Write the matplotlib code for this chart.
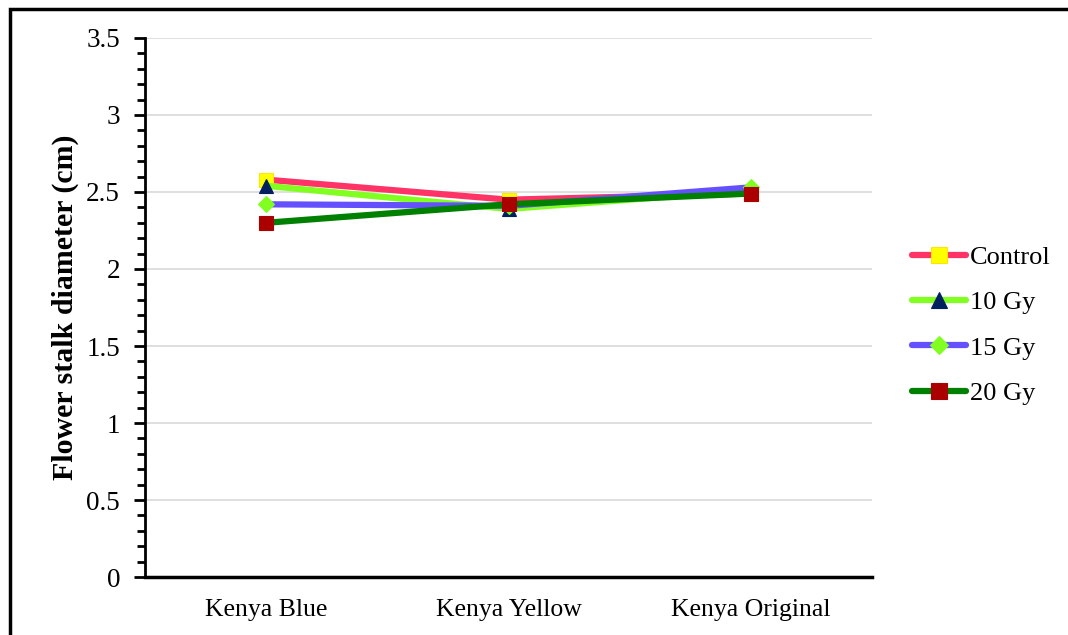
import matplotlib
matplotlib.use("Agg")
import matplotlib.pyplot as plt
from matplotlib.ticker import MultipleLocator
from matplotlib.patches import Rectangle

# cultivars and stalk diameters (cm) per irradiation dose
cultivars = ["Kenya Blue", "Kenya Yellow", "Kenya Original"]
control = [2.58, 2.45, 2.49]
gy10 = [2.54, 2.39, 2.51]
gy15 = [2.42, 2.41, 2.53]
gy20 = [2.30, 2.42, 2.49]

series = [
    ("Control", control, "#FF3366", "s", "#FFFF00", "#FFE600"),
    ("10 Gy", gy10, "#80FF20", "^", "#002060", "#002060"),
    ("15 Gy", gy15, "#6450FF", "D", "#80FF20", "#80FF20"),
    ("20 Gy", gy20, "#008000", "s", "#AA0000", "#AA0000"),
]

plt.rcParams["font.family"] = ["Liberation Serif", "DejaVu Serif"]

fig = plt.figure(figsize=(10.68, 6.35), dpi=100)
ax = fig.add_axes([0.1358, 0.0913, 0.6807, 0.8489])

x = [0.5, 1.5, 2.5]
for name, vals, lc, mk, mfc, mec in series:
    ms = 8.5 if mk == "D" else 10.5
    ax.plot(x, vals, color=lc, lw=4.5, marker=mk, markersize=ms,
            markerfacecolor=mfc, markeredgecolor=mec, markeredgewidth=0.8,
            label=name, solid_capstyle="round", zorder=3)

ax.set_xlim(0, 3)
ax.set_ylim(0, 3.5)
ax.yaxis.set_minor_locator(MultipleLocator(0.1))
ax.set_yticks([0, 0.5, 1, 1.5, 2, 2.5, 3, 3.5])
ax.set_yticklabels(["0", "0.5", "1", "1.5", "2", "2.5", "3", "3.5"])
ax.set_xticks(x)
ax.set_xticklabels(cultivars)

ax.grid(axis="y", color="#D9D9D9", lw=1.2, zorder=0)
ax.set_axisbelow(True)
for s in ("top", "right"):
    ax.spines[s].set_visible(False)
ax.spines["left"].set_linewidth(2)
ax.spines["bottom"].set_linewidth(2.5)

ax.tick_params(axis="y", which="major", length=8, width=2, direction="out",
               labelsize=19.5, pad=10)
ax.tick_params(axis="y", which="minor", length=6, width=2, direction="out")
ax.tick_params(axis="x", length=0, labelsize=18.5, pad=16)

ax.set_ylabel("Flower stalk diameter (cm)", fontsize=21.5, fontweight="bold",
              labelpad=5)

leg = ax.legend(loc="center left", bbox_to_anchor=(1.04, 0.467), frameon=False,
                fontsize=19, handlelength=2.05, handletextpad=0.15,
                labelspacing=0.83, borderaxespad=0, markerscale=1.1)

# frame lines along the left and top of the figure
fig.patches.append(Rectangle((10 / 1068, -0.1), 1.2, 1.1 - 9 / 635,
                             transform=fig.transFigure, fill=False,
                             edgecolor="black", lw=2.5, clip_on=False))

fig.savefig("out.png", dpi=100)
